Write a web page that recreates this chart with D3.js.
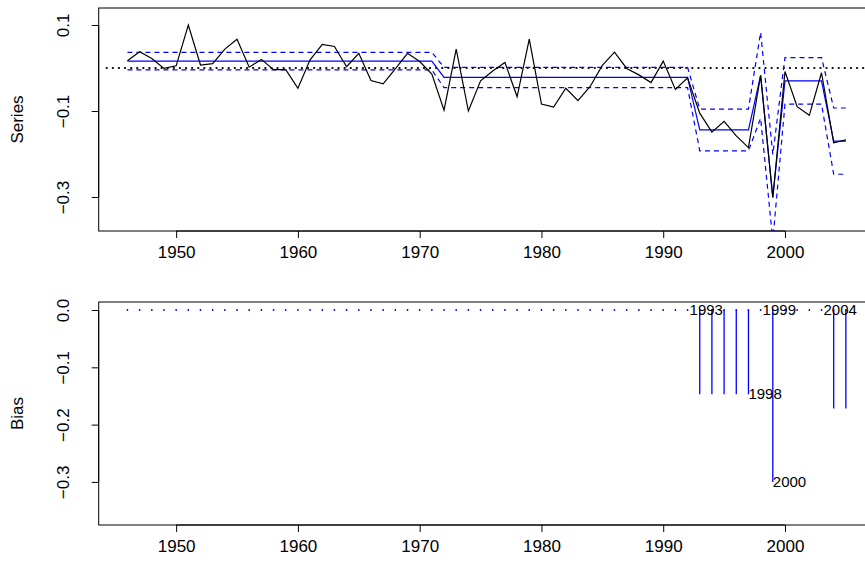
<!DOCTYPE html>
<html>
<head>
<meta charset="utf-8">
<style>
  body {margin: 0; background: #fff;}
  text {font-family: "Liberation Sans", Arial, sans-serif; fill: black;}
</style>
<script src="https://d3js.org/d3.v7.min.js"></script>
</head>
<body>
<script>
var years = d3.range(1946, 2006);
var series = [0.017, 0.038, 0.022, -0.001, 0.005, 0.1, 0.007, 0.01, 0.044, 0.067,
  0.002, 0.02, -0.004, -0.004, -0.047, 0.019, 0.055, 0.05, 0.003, 0.034,
  -0.029, -0.037, -0.002, 0.034, 0.015, -0.014, -0.098, 0.044, -0.1, -0.03,
  -0.007, 0.013, -0.067, 0.067, -0.084, -0.091, -0.047, -0.076, -0.043, 0.006,
  0.037, -0.001, -0.016, -0.034, 0.016, -0.05, -0.023, -0.105, -0.149, -0.124,
  -0.158, -0.185, -0.017, -0.301, -0.008, -0.09, -0.11, -0.011, -0.174, -0.167];
// fitted mean and band, one value per year
var fitMean = [], fitUp = [], fitLo = [];
years.forEach(function (y, i) {
  var m, h;
  if (y <= 1971) { m = 0.016; h = 0.0205; }
  else if (y <= 1992) { m = -0.022; h = 0.0235; }
  else if (y <= 1997) { m = -0.144; h = 0.0485; }
  else if (y == 1998) { m = -0.017; h = 0.1; }
  else if (y == 1999) { m = -0.301; h = 0.1; }
  else if (y <= 2003) { m = -0.03; h = 0.054; }
  else { m = -0.17; h = 0.077; }
  fitMean.push(m); fitUp.push(m + h); fitLo.push(m - h);
});
var biasYears = [1993, 1994, 1995, 1996, 1997, 1999, 2004, 2005];
var biasVals = [-0.147, -0.147, -0.147, -0.147, -0.147, -0.3, -0.172, -0.172];
var breakLabels = [
  {year: 1993, v: 0, t: "1993", top: true}, {year: 1999, v: 0, t: "1999", top: true},
  {year: 2004, v: 0, t: "2004", top: true},
  {year: 1997, v: -0.147, t: "1998"}, {year: 1999, v: -0.3, t: "2000"}];
var xTicks = [1950, 1960, 1970, 1980, 1990, 2000];

var W = 865, H = 572;
var svg = d3.select("body").append("svg").attr("width", W).attr("height", H);
var left = 98.7;
var x = d3.scaleLinear().domain([1943.64, 2007.36]).range([left, 874.6]);
var fmt = function (d) { return d3.format(".1f")(d).replace("-", "\u2212"); };

function panel(top, bottom, domain, ticks, label) {
  var y = d3.scaleLinear().domain(domain).range([bottom, top]);
  var g = svg.append("g");
  g.append("defs").append("clipPath").attr("id", "clip" + top)
    .append("rect").attr("x", left).attr("y", top).attr("width", 880 - left).attr("height", bottom - top);
  g.append("rect").attr("x", left).attr("y", top).attr("width", 874.6 - left).attr("height", bottom - top)
    .attr("fill", "none").attr("stroke", "black");
  var ya = g.append("g").attr("transform", "translate(" + left + ",0)")
    .call(d3.axisLeft(y).tickValues(ticks).tickSize(7).tickFormat(fmt));
  ya.select(".domain").remove();
  ya.append("line").attr("y1", y(ticks[0])).attr("y2", y(ticks[ticks.length - 1])).attr("stroke", "black");
  ya.selectAll(".tick text").attr("transform", "rotate(-90)")
    .attr("x", 0).attr("y", -30).attr("dy", 0).attr("text-anchor", "middle")
    .attr("font-size", 17);
  var xa = g.append("g").attr("transform", "translate(0," + bottom + ")")
    .call(d3.axisBottom(x).tickValues(xTicks).tickSize(7).tickFormat(d3.format("d")).tickPadding(8));
  xa.select(".domain").remove();
  xa.append("line").attr("x1", x(1950)).attr("x2", x(2000)).attr("stroke", "black");
  xa.selectAll(".tick text").attr("font-size", 17);
  g.append("text").attr("transform", "translate(23," + (top + bottom) / 2 + ") rotate(-90)")
    .attr("text-anchor", "middle").attr("font-size", 17).text(label);
  return {y: y, g: g.append("g").attr("clip-path", "url(#clip" + top + ")")};
}

// top panel
var p1 = panel(8, 231, [-0.379, 0.1395], [-0.3, -0.1, 0.1], "Series");
var y1 = p1.y;
p1.g.append("line").attr("x1", left + 8).attr("x2", 870).attr("y1", y1(0)).attr("y2", y1(0))
  .attr("stroke", "black").attr("stroke-width", 2.2).attr("stroke-dasharray", "0.1,6").attr("stroke-linecap", "round");
var line = function (vals) {
  return d3.line().x(function (d, i) { return x(years[i]); }).y(function (d) { return y1(d); })(vals);
};
p1.g.append("path").attr("d", line(fitMean)).attr("fill", "none").attr("stroke", "blue").attr("stroke-width", 1.2);
[fitUp, fitLo].forEach(function (s) {
  p1.g.append("path").attr("d", line(s)).attr("fill", "none").attr("stroke", "blue")
    .attr("stroke-width", 1.2).attr("stroke-dasharray", "5,4");
});
p1.g.append("path").attr("d", line(series)).attr("fill", "none").attr("stroke", "black").attr("stroke-width", 1.2);

// bottom panel
var p2 = panel(302, 525, [-0.3752, 0.014], [-0.3, -0.2, -0.1, 0.0], "Bias");
var y2 = p2.y;
p2.g.selectAll("circle").data(years).enter().append("circle")
  .attr("cx", function (d) { return x(d); }).attr("cy", y2(0)).attr("r", 0.9).attr("fill", "blue");
p2.g.selectAll("line.bias").data(biasYears).enter().append("line").attr("class", "bias")
  .attr("x1", function (d) { return x(d); }).attr("x2", function (d) { return x(d); })
  .attr("y1", y2(0)).attr("y2", function (d, i) { return y2(biasVals[i]); })
  .attr("stroke", "blue").attr("stroke-width", 1.3);
p2.g.selectAll("text.lab").data(breakLabels).enter().append("text").attr("class", "lab")
  .attr("x", function (d) { return d.top ? x(d.year) + 6.5 : x(d.year); })
  .attr("y", function (d) { return y2(d.v); })
  .attr("dy", "0.35em").attr("text-anchor", function (d) { return d.top ? "middle" : "start"; })
  .attr("font-size", 15)
  .text(function (d) { return d.t; });
</script>
</body>
</html>
